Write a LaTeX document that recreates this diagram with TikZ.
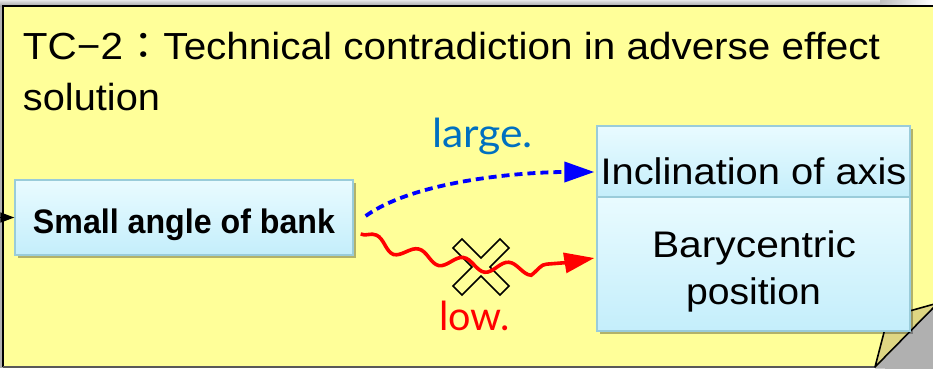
\documentclass[tikz,border=0pt]{standalone}
\usepackage{fontspec}
\setmainfont{Liberation Sans}
\newfontfamily\cjk{Noto Sans CJK JP}
\newfontfamily\lbl{Lato}
\usetikzlibrary{arrows.meta,shadows,decorations.pathmorphing}
\definecolor{note}{HTML}{FFFF99}
\definecolor{flap}{HTML}{DED683}
\definecolor{boxtop}{HTML}{E9FBFF}
\definecolor{boxbot}{HTML}{C4EEFB}
\definecolor{boxline}{HTML}{9ACCDA}
\definecolor{lblue}{HTML}{0070C0}
\newcommand\fitw[2]{\resizebox{#1}{\height}{#2}}
\begin{document}
\begin{tikzpicture}[x=1pt,y=-1pt,
  boxst/.style={draw=boxline, line width=1.3pt, top color=boxtop, bottom color=boxbot,
    inner sep=0pt, drop shadow={shadow xshift=2.5pt, shadow yshift=-3pt, opacity=0.3, fill=black}},
  txt/.style={inner sep=0pt, outer sep=0pt},
  bigtip/.style={-{Triangle[length=30pt,width=20pt]}}]
\useasboundingbox (0,0) rectangle (933,368);
% background and note
\fill[gray!60] (0,0) rectangle (933,368);
\shade[top color=gray!20, bottom color=gray!70] (0,0) rectangle (933,6);
\shade[left color=gray!50, right color=white] (880,0) rectangle (933,5.5);
\fill[note] (3,6) rectangle (945,367);
\draw[black, line width=2pt] (945,6) -- (3,6) -- (3,367);
\draw[black!65, line width=1.5pt] (3,367.2) -- (876,367.2);
% folded corner
\fill[gray!62] (875,368.5) -- (938,303) -- (938,370) -- cycle;
\filldraw[fill=flap, draw=black, line width=1.6pt, line join=round] (875,367) -- (888,317) -- (938,303) -- cycle;
% title
\node[txt, anchor=base west] (title1) at (23,59) {\fontsize{37.7}{40}\selectfont\fitw{857pt}{TC−2{\cjk ：}Technical contradiction in adverse effect}};
\node[txt, anchor=base west] (title2) at (23,110) {\fontsize{37.7}{40}\selectfont\fitw{137pt}{solution}};
% cross mark
\begin{scope}[shift={(481,267)}, rotate=45]
\draw[line width=1.6pt, line join=miter]
  (6.4,33.2) -- (6.4,6.4) -- (33.2,6.4) -- (33.2,-6.4) -- (6.4,-6.4) -- (6.4,-33.2)
  -- (-6.4,-33.2) -- (-6.4,-6.4) -- (-33.2,-6.4) -- (-33.2,6.4) -- (-6.4,6.4) -- (-6.4,33.2) -- cycle;
\end{scope}
% boxes
\node[boxst, minimum width=338pt, minimum height=75pt, text height=31pt, text depth=0pt] (bank) at (184,217.5)
  {\fontsize{34}{36}\selectfont\bfseries\fitw{302pt}{Small angle of bank}};
\node[boxst, minimum width=313pt, minimum height=71pt, text height=45pt, text depth=0pt] (incl) at (753.5,161.5)
  {\fontsize{37}{40}\selectfont\fitw{306pt}{Inclination of axis}};
\node[boxst, minimum width=313pt, minimum height=134pt] (bary) at (753.5,264) {};
\node[txt, anchor=base] (bary1) at (754,257) {\fontsize{37}{40}\selectfont\fitw{204pt}{Barycentric}};
\node[txt, anchor=base] (bary2) at (753.5,304) {\fontsize{37}{40}\selectfont\fitw{135pt}{position}};
% connectors
\coordinate (src) at (-10,217.5);
\draw[line width=1.5pt, -{Triangle[length=14pt,width=10pt]}] (src) -- (bank.west);
\draw[blue, line width=3.8pt, dash pattern=on 8pt off 5pt, bigtip]
  ([xshift=12pt,yshift=1.5pt]bank.east) .. controls +(50,-36) and +(-70,0) .. ([xshift=-2pt,yshift=-10.5pt]incl.west);
\draw[red, line width=3.6pt, bigtip,
  decorate, decoration={snake, amplitude=6pt, segment length=46pt, post length=28pt}]
  ([xshift=7pt,yshift=-16.5pt]bank.east) .. controls +(50,25) and +(-60,15) .. ([xshift=-2pt,yshift=6pt]bary.west);
% labels
\node[txt, anchor=base west, text=lblue] (large) at (432,147) {\lbl\fontsize{40}{44}\selectfont\fitw{101pt}{large.}};
\node[txt, anchor=base west, text=red] (low) at (439,330) {\lbl\fontsize{40}{44}\selectfont\fitw{71pt}{low.}};
\end{tikzpicture}
\end{document}
